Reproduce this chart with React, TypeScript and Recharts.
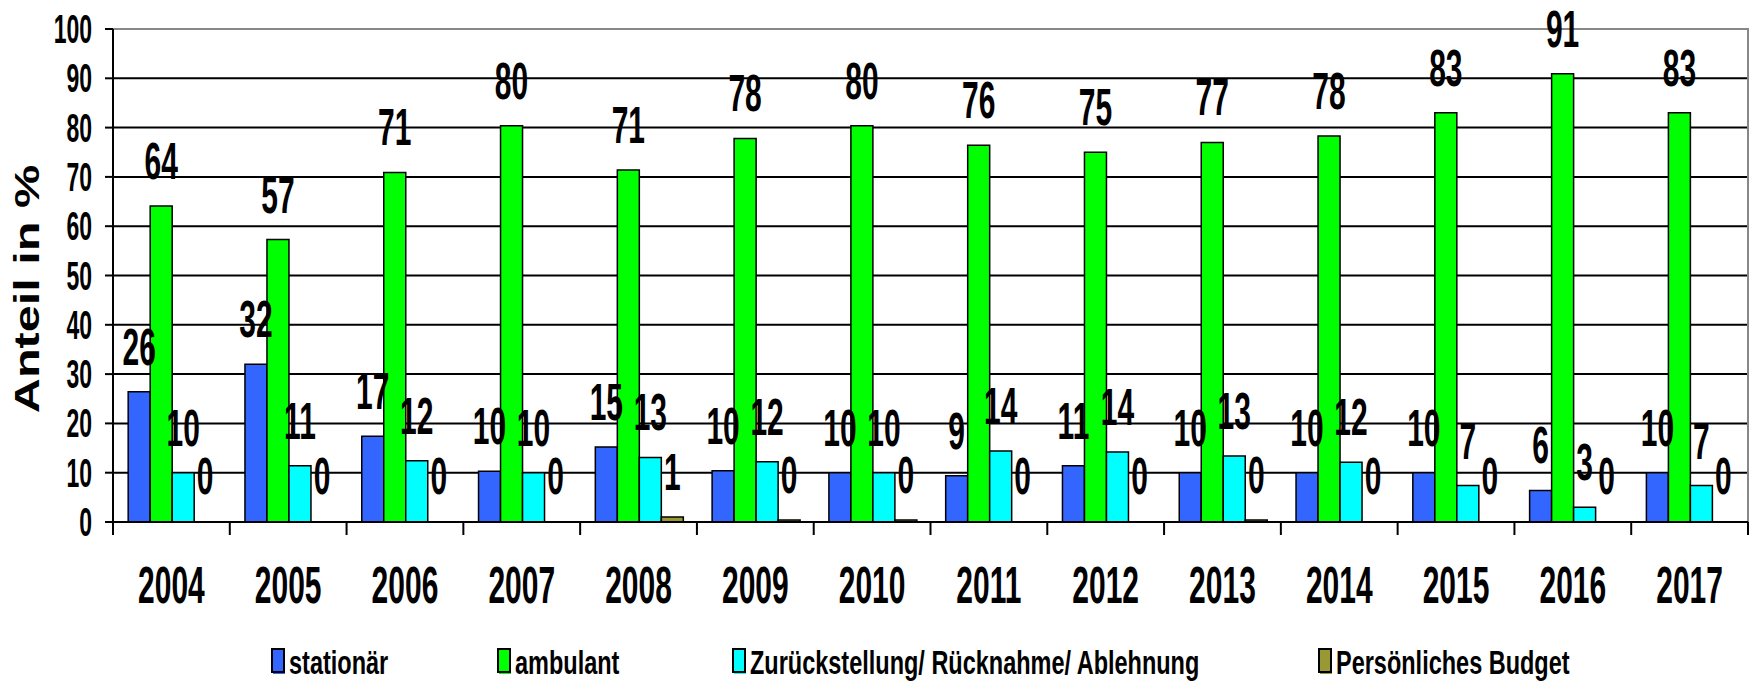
import { BarChart, Bar, Cell, XAxis, YAxis, CartesianGrid, LabelList, ReferenceArea } from "recharts";

const years = ["2004", "2005", "2006", "2007", "2008", "2009", "2010", "2011", "2012", "2013", "2014", "2015", "2016", "2017"];
const stationaer = [26.4, 32.0, 17.4, 10.3, 15.2, 10.4, 10.0, 9.4, 11.4, 10.0, 10.0, 10.0, 6.4, 10.0];
const ambulant = [64.1, 57.3, 70.9, 80.4, 71.4, 77.8, 80.4, 76.4, 75.0, 77.0, 78.3, 83.0, 90.9, 83.0];
const zurueck = [10.0, 11.4, 12.4, 10.0, 13.1, 12.2, 10.0, 14.4, 14.2, 13.4, 12.1, 7.4, 3.0, 7.4];
const budget = [0, 0, 0, 0, 1.0, 0.4, 0.4, 0, 0, 0.4, 0, 0, 0, 0];
const yTicks = [0, 10, 20, 30, 40, 50, 60, 70, 80, 90, 100];

const series = [
  { key: "stationaer", name: "stationär", color: "#3366FF", values: stationaer, legendX: 272 },
  { key: "ambulant", name: "ambulant", color: "#00FF00", values: ambulant, legendX: 498 },
  { key: "zurueck", name: "Zurückstellung/ Rücknahme/ Ablehnung", color: "#00FFFF", values: zurueck, legendX: 733 },
  { key: "budget", name: "Persönliches Budget", color: "#999933", values: budget, legendX: 1319 },
];

const data = years.map((year, i) => ({
  year,
  stationaer: stationaer[i],
  ambulant: ambulant[i],
  zurueck: zurueck[i],
  budget: budget[i],
}));

const W = 1752;
const H = 684;
const PLOT_LEFT = 113;
const PLOT_RIGHT = 1748;
const PLOT_TOP = 29;
const PLOT_BOTTOM = 522;
const FONT = "'Liberation Sans', Arial, sans-serif";

function XTick(props: any) {
  const { x, payload, index } = props;
  const band = (PLOT_RIGHT - PLOT_LEFT) / years.length;
  return (
    <g>
      <line x1={x - band / 2} x2={x - band / 2} y1={PLOT_BOTTOM} y2={PLOT_BOTTOM + 13} stroke="#000" strokeWidth={2} />
      {index === years.length - 1 && (
        <line x1={x + band / 2} x2={x + band / 2} y1={PLOT_BOTTOM} y2={PLOT_BOTTOM + 13} stroke="#000" strokeWidth={2} />
      )}
      <text
        transform={`translate(${x}, 603) scale(1, 1.7)`}
        textAnchor="middle"
        fontFamily={FONT}
        fontWeight="bold"
        fontSize={30}
        fill="#000"
      >
        {payload.value}
      </text>
    </g>
  );
}

function YTick(props: any) {
  const { y, payload } = props;
  return (
    <text
      transform={`translate(92, ${y + 14}) scale(1, 1.75)`}
      textAnchor="end"
      fontFamily={FONT}
      fontWeight="bold"
      fontSize={23}
      fill="#000"
    >
      {payload.value}
    </text>
  );
}

function ValueLabel(props: any) {
  const { x, y, width, value } = props;
  return (
    <text
      transform={`translate(${x + width / 2}, ${y - 27}) scale(1, 1.7)`}
      textAnchor="middle"
      fontFamily={FONT}
      fontWeight="bold"
      fontSize={30}
      fill="#000"
    >
      {Math.round(value)}
    </text>
  );
}

export default function App() {
  return (
    <div style={{ position: "absolute", left: 0, top: 0, width: W, height: H, background: "#fff" }}>
      <BarChart
        width={W}
        height={H}
        data={data}
        margin={{ top: PLOT_TOP, right: W - PLOT_RIGHT, bottom: 0, left: 13 }}
        barCategoryGap="13%"
        barGap={0}
      >
        <CartesianGrid vertical={false} stroke="#000" strokeWidth={2} />
        <ReferenceArea y1={0} y2={100} fill="none" stroke="#888" strokeWidth={2} ifOverflow="visible" />
        <XAxis
          dataKey="year"
          height={H - PLOT_BOTTOM}
          axisLine={{ stroke: "#000", strokeWidth: 2 }}
          tickLine={false}
          tick={<XTick />}
          interval={0}
        />
        <YAxis
          width={PLOT_LEFT - 13}
          domain={[0, 100]}
          ticks={yTicks}
          interval={0}
          axisLine={{ stroke: "#000", strokeWidth: 2 }}
          tickLine={{ stroke: "#000", strokeWidth: 2 }}
          tickSize={8}
          tick={<YTick />}
        />
        {series.map((s) => (
          <Bar
            key={s.key}
            dataKey={s.key}
            name={s.name}
            fill={s.color}
            stroke="#000"
            strokeWidth={1.5}
            minPointSize={1}
            isAnimationActive={false}
          >
            {s.values.map((v, i) => (
              <Cell key={i} fill={v === 0 ? "none" : s.color} stroke={v === 0 ? "none" : "#000"} />
            ))}
            <LabelList dataKey={s.key} content={<ValueLabel />} />
          </Bar>
        ))}
      </BarChart>
      <svg width={W} height={H} style={{ position: "absolute", left: 0, top: 0, pointerEvents: "none" }}>
        <text
          transform="translate(39, 289) scale(1, 1.35) rotate(-90)"
          textAnchor="middle"
          fontFamily={FONT}
          fontWeight="bold"
          fontSize={36}
          fill="#000"
        >
          Anteil in %
        </text>
        {series.map((s) => (
          <g key={s.key}>
            <rect x={s.legendX + 1} y={651} width={12} height={23} fill={s.color} />
            <rect x={s.legendX} y={649} width={12} height={23} fill={s.color} stroke="#000" strokeWidth={2} />
            <text
              transform={`translate(${s.legendX + 17}, 674) scale(1, 1.45)`}
              fontFamily={FONT}
              fontWeight="bold"
              fontSize={23.5}
              fill="#000"
            >
              {s.name}
            </text>
          </g>
        ))}
      </svg>
    </div>
  );
}
